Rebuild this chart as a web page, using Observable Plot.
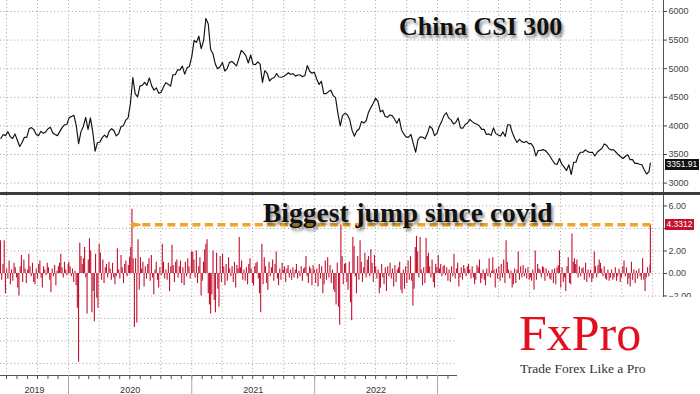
<!DOCTYPE html>
<html><head><meta charset="utf-8">
<script src="https://cdn.jsdelivr.net/npm/d3@7"></script>
<script src="https://cdn.jsdelivr.net/npm/@observablehq/plot@0.6"></script>
<style>
body{margin:0;background:#fff}
#wrap{position:relative;width:700px;height:394px;overflow:hidden;background:#fff;font-family:"Liberation Sans",Arial,sans-serif}
#top svg,#bot svg{display:block}
.sep{height:3px;background:#3c3c3c}
.ann{position:absolute;font-family:"Liberation Serif","Times New Roman",serif;font-weight:bold;color:#111;line-height:1;white-space:nowrap;text-shadow:2px 3px 3px rgba(0,0,0,0.45)}
.vbox{position:absolute;color:#fff;font-size:8.5px;line-height:11px;height:11px;padding:0 1.5px;white-space:nowrap}
#logo{position:absolute;left:457px;top:297px;width:243px;height:97px;background:#fff}
</style></head><body>
<div id="wrap">
  <div id="top"></div><div class="sep"></div><div id="bot"></div>
  <div class="ann" style="left:399px;top:14px;font-size:26px">China CSI 300</div>
  <div class="ann" style="left:263px;top:199px;font-size:27.5px">Biggest jump since covid</div>
  <div id="logo">
    <div style="position:absolute;left:62px;top:16px;font:50px/0.8 'Liberation Serif','Times New Roman',serif;color:#e2101f">FxPro</div>
    <div style="position:absolute;left:63px;top:65px;font:13.5px/1 'Liberation Serif','Times New Roman',serif;color:#333">Trade Forex Like a Pro</div>
  </div>
</div>
<script>
// ---- data: CSI 300 weekly closes (Fridays), by year, starting at the given Friday
const priceStarts = ["2019-06-14","2020-01-03","2021-01-01","2022-01-07","2023-01-06","2024-01-05"];
const price2019 = [3780,3850,3830,3900,3810,3780,3860,3750,3640,3710,3800,3800,3950,3970,3935,3850,3830,3905,3870,3895,3950,3975,3880,3850,3830,3900,3970,4020,4025];
const price2020 = [4145,4165,4185,4005,3690,3900,3990,4150,3940,4140,3895,3560,3710,3715,3795,3840,3795,3910,3950,3915,3825,3865,3990,4005,4100,4140,4400,4845,4565,4505,4695,4710,4760,4710,4840,4700,4625,4665,4570,4590,4680,4755,4730,4695,4895,4895,4980,4980,5045,4905,5015,5040];
const price2021 = [5210,5495,5460,5570,5350,5485,5880,5780,5335,5260,5080,5000,5035,5110,4960,5000,5110,5125,5090,5050,5180,5320,5280,5225,5100,5240,5080,5070,5120,5080,4760,4965,4920,4785,4830,4845,4915,4855,4850,4865,4895,4930,4900,4915,4870,4890,4890,4860,4880,5055,4955,4920,4940];
const price2022 = [4820,4725,4780,4565,4565,4600,4625,4530,4495,4220,4000,4185,4220,4195,4110,3925,3820,3910,3945,4075,4050,4090,4240,4320,4395,4485,4430,4245,4275,4170,4150,4190,4180,4120,4045,4130,3930,3855,3805,3805,3850,3690,3540,3765,3810,3800,3775,3870,3995,3955,3830,3870];
const price2023 = [3990,4075,4180,4230,4140,4105,4035,4060,4140,3965,3960,4025,4050,4115,4075,4045,4030,4000,3940,3940,3850,3860,3835,3965,3865,3840,3825,3895,3815,4020,4020,3885,3785,3710,3765,3725,3710,3730,3690,3690,3630,3475,3570,3570,3585,3570,3525,3470,3400,3340,3325,3430];
const price2024 = [3330,3280,3220,3320,3150,3365,3365,3490,3540,3540,3580,3550,3535,3540,3475,3540,3575,3605,3685,3660,3600,3580,3580,3540,3495,3460,3430,3470,3495,3410,3410,3345,3345,3330,3320,3230,3160,3200];
const lastClose = {date: "2024-09-24", value: 3351.91};

// ---- data: CSI 300 daily % change (sampled), by year, spread over each year's trading span
const retSpans = [["2019-06-13","2019-12-31"],["2020-01-02","2020-12-31"],["2021-01-04","2021-12-31"],["2022-01-04","2022-12-30"],["2023-01-03","2023-12-29"],["2024-01-02","2024-09-23"]];
const ret2019 = [2.9,-0.6,0.8,2.9,-1.8,0.4,-0.5,1.1,-1.0,0.3,-0.7,0.9,0.5,-0.4,-1.3,-2.0,0.6,1.6,-0.8,1.2,0.4,-0.9,0.3,1.7,0.6,-0.3,0.9,-0.8,-1.0,0.4,-0.5,0.8,1.1,-0.4,-1.3,0.6,0.3,-0.2,0.9,0.5,-0.6,-1.7,0.4,-0.3,0.7,-1.1,0.2,0.6,0.9,1.7,0.5,-0.4,1.0,0.3,-0.2,0.8];
const ret2020 = [1.0,0.6,-0.3,0.4,-0.8,0.2,-1.1,-3.1,-7.9,2.7,1.5,0.8,1.3,2.3,-0.4,-3.6,1.2,3.1,2.0,-3.5,-1.6,-4.3,1.7,-2.2,-3.1,2.6,1.8,-0.6,1.2,-0.9,0.5,0.8,-0.4,1.0,0.4,-0.6,0.9,-0.4,-1.0,-0.3,2.2,0.3,-0.5,1.6,0.5,-0.9,0.8,1.1,-0.3,0.7,1.4,2.3,5.7,1.3,-4.8,1.3,-4.4,3.0,-1.5,1.4,0.4,1.0,-1.2,0.6,-0.5,0.8,1.3,-0.7,1.6,-0.4,-1.9,0.3,1.0,-0.6,-1.3,0.5,-0.2,2.6,1.0,-0.5,0.3,-0.6,0.9,-1.6,0.6,2.5,0.7,-0.8,1.0,1.2,-0.4,0.6,1.1,-0.9,0.5,-1.1,1.0,-0.3,1.3,0.6,-0.5,1.9];
const ret2021 = [1.9,1.2,-0.4,2.0,-0.9,0.6,1.4,-2.0,-0.7,1.0,2.1,2.6,3.0,-1.8,-2.8,-3.6,-1.9,2.0,-2.4,-3.5,1.8,-1.4,-3.0,1.5,-0.8,1.7,0.6,-1.1,0.8,-0.7,1.4,0.4,-0.3,0.6,-0.8,1.0,-1.3,0.7,0.4,3.2,0.5,1.1,-0.6,0.3,-0.7,0.5,-1.0,0.8,1.3,0.4,-0.9,-1.1,0.6,0.9,1.0,-0.5,-1.8,-3.5,2.6,-1.0,1.4,0.6,-0.9,-1.5,1.0,-0.3,0.5,1.2,-0.7,0.8,1.9,-0.5,-1.1,0.4,-0.6,0.9,0.3,0.6,-0.8,0.4,0.7,-0.4,0.3,-0.6,0.5,-0.4,0.3,0.8,-0.5,0.2,-0.3,0.6,-0.7,0.4,0.5,1.5,-0.3,-0.9,0.6,0.4,-1.1,0.7,0.3];
const ret2022 = [-0.9,0.4,-1.2,0.8,-0.5,0.6,-1.8,-1.0,1.1,-0.6,1.4,-0.4,0.7,-0.9,0.3,-1.5,-1.7,-2.8,0.9,-3.0,-4.6,4.3,1.5,-1.0,0.8,0.9,-0.8,-1.5,1.0,-2.6,-4.2,3.2,2.4,-0.3,-1.8,1.5,-0.6,2.9,1.0,-0.8,0.5,1.8,-0.4,1.2,1.5,-0.3,2.1,0.9,-0.8,1.6,0.6,-0.5,0.3,-1.8,-1.3,0.8,-0.4,-1.0,0.5,-1.6,0.6,-0.3,0.9,-0.5,0.4,-1.2,0.7,-0.8,0.3,0.5,1.0,-1.5,-1.8,0.3,-1.4,0.6,-0.9,1.1,-0.6,1.5,-0.7,-2.9,-1.4,2.3,3.3,1.9,-0.4,3.2,0.3,-1.1,0.5,-0.9,3.1,1.5,1.8,0.6,-0.4,1.2,-0.8,-1.3,0.8,0.5];
const ret2023 = [1.6,0.4,0.8,-0.3,0.6,0.7,-0.2,0.5,-0.7,0.3,-0.8,0.6,-0.3,1.7,-0.5,0.4,0.9,-1.2,-0.4,0.5,-0.6,0.7,0.4,-0.3,0.6,0.8,0.3,-0.5,0.6,-0.4,-1.0,-0.6,0.7,0.5,1.2,-0.9,-0.5,0.3,-0.6,-1.1,0.4,-0.3,1.3,-0.4,0.2,1.4,0.3,-1.3,0.4,-0.5,0.6,-0.7,0.8,-0.4,1.2,-0.9,2.9,1.0,0.3,-0.5,0.2,-1.3,-1.0,0.4,-0.9,0.3,1.9,-0.6,0.6,-0.4,0.7,-0.3,0.4,-0.5,0.5,-0.6,-0.4,-0.7,0.3,-1.5,2.0,-0.6,0.8,0.4,0.3,-0.4,0.6,0.5,-0.7,0.4,-0.3,0.2,-0.5,-0.6,0.3,-0.9,0.4,-1.0,0.5,0.7,2.0];
const ret2024 = [-1.3,0.5,-0.8,-0.4,-1.6,0.6,1.4,-0.9,-1.0,3.5,1.0,1.3,0.8,1.2,-0.4,0.6,-0.3,0.4,0.5,-0.6,0.9,-0.8,0.3,-0.4,0.3,-0.8,-0.5,1.9,0.6,-0.4,0.7,1.2,0.9,0.4,-0.3,0.6,-0.5,-0.6,0.3,-0.7,-0.4,0.3,-0.6,-0.4,0.5,-0.7,-0.3,0.4,-0.8,-0.4,0.6,1.1,-0.3,0.5,-1.0,-0.5,-1.2,1.0,-0.6,0.3,-0.9,0.2,-0.5,0.4,-0.3,-0.6,1.3,-0.6,-1.6,-0.4,0.5,-0.3,0.7];
const lastReturn = {date: "2024-09-24", value: 4.3312};
const covidJump = {date: "2020-07-06", value: 5.67};

// ---- axes
const priceTicks = [3000,3500,4000,4500,5000,5500,6000];
const retTicks = [-8,-6,-4,-2,0,2,4,6];

// ---- build tables
const parse = d3.utcParse("%Y-%m-%d");
const priceBlocks = [price2019,price2020,price2021,price2022,price2023,price2024];
const priceData = [];
priceBlocks.forEach((vals, b) => {
  const s = parse(priceStarts[b]);
  vals.forEach((v, i) => priceData.push({date: d3.utcDay.offset(s, 7 * i), value: v}));
});
priceData.push({date: parse(lastClose.date), value: lastClose.value});

const retBlocks = [ret2019,ret2020,ret2021,ret2022,ret2023,ret2024];
const retData = [];
retBlocks.forEach((vals, b) => {
  const t = d3.scaleLinear().domain([0, vals.length - 1]).range([+parse(retSpans[b][0]), +parse(retSpans[b][1])]);
  vals.forEach((v, i) => retData.push({date: new Date(t(i)), value: v}));
});
retData.push({date: parse(lastReturn.date), value: lastReturn.value});

// ---- scale settings
const xDomain = [parse("2019-06-13"), parse("2024-11-02")];
const priceDomain = [2836, 6192];
const retDomain = [-9.07, 6.93];
const quarters = d3.utcMonth.every(3).range(xDomain[0], xDomain[1]);
const months = d3.utcMonth.range(xDomain[0], xDomain[1]);
const yearStarts = d3.utcYear.range(xDomain[0], xDomain[1]);
const yearMids = d3.utcYear.range(d3.utcYear.floor(xDomain[0]), xDomain[1]).map(y => {
  const a = Math.max(+y, +xDomain[0]), e = Math.min(+d3.utcYear.offset(y, 1), +xDomain[1]);
  return new Date((a + e) / 2);
});

const gridStyle = {stroke: "#a0a0a0", strokeOpacity: 1, strokeDasharray: "1,2.6"};
const font = {fontFamily: "'Liberation Sans', Arial, sans-serif", fontSize: "9px", background: "transparent", overflow: "visible"};
const f2 = d3.format(".2f");

const topPlot = Plot.plot({
  width: 700, height: 192, marginLeft: 0, marginRight: 37, marginTop: 0, marginBottom: 0,
  x: {type: "utc", domain: xDomain, axis: null},
  y: {domain: priceDomain},
  style: font,
  marks: [
    Plot.gridX(quarters, gridStyle),
    Plot.gridY(priceTicks, gridStyle),
    Plot.line(priceData, {x: "date", y: "value", stroke: "#111", strokeWidth: 1.15}),
    Plot.ruleX([xDomain[1]], {stroke: "#555"}),
    Plot.axisY(priceTicks, {anchor: "right", label: null, tickSize: 3, tickPadding: 2, fill: "#444", stroke: "#444", tickFormat: d3.format("d")})
  ]
});
document.getElementById("top").appendChild(topPlot);

const arrowData = [{x1: parse(lastReturn.date), x2: parse(covidJump.date), y: lastReturn.value}];
const headData = [{x1: d3.utcDay.offset(parse(covidJump.date), 24), x2: parse(covidJump.date), y: lastReturn.value}];

const botPlot = Plot.plot({
  width: 700, height: 199, marginLeft: 0, marginRight: 37, marginTop: 0, marginBottom: 19,
  x: {type: "utc", domain: xDomain},
  y: {domain: retDomain},
  style: font,
  marks: [
    Plot.gridX(quarters, gridStyle),
    Plot.gridY(retTicks, gridStyle),
    Plot.ruleX(retData, {x: "date", y1: 0, y2: "value", stroke: "#c3112e", strokeWidth: 1.1}),
    Plot.link(arrowData, {x1: "x1", x2: "x2", y1: "y", y2: "y", stroke: "#f0a526", strokeWidth: 3.5, strokeDasharray: "8,4.5"}),
    Plot.arrow(headData, {x1: "x1", x2: "x2", y1: "y", y2: "y", stroke: "#f0a526", strokeWidth: 2.5, headLength: 9}),
    Plot.ruleX([xDomain[1]], {stroke: "#555"}),
    Plot.ruleY([retDomain[0]], {stroke: "#555"}),
    Plot.axisX(months, {label: null, tickSize: 4, tickFormat: () => "", stroke: "#555"}),
    Plot.axisX(yearStarts, {label: null, tickSize: 19, tickFormat: () => "", stroke: "#aaa"}),
    Plot.axisX(yearMids, {label: null, tickSize: 0, tickPadding: 11.5, tickFormat: d3.utcFormat("%Y"), fill: "#333"}),
    Plot.axisY(retTicks, {anchor: "right", label: null, tickSize: 3, tickPadding: 2, fill: "#444", stroke: "#444",
      tickFormat: d => Math.abs(d - lastReturn.value) < 1 ? "" : f2(d)})
  ]
});
document.getElementById("bot").appendChild(botPlot);

// ---- value tags at right axis, positioned through the plots' scales
const wrap = document.getElementById("wrap");
function tag(text, bg, x, y, dy) {
  const d = document.createElement("div");
  d.className = "vbox"; d.textContent = text; d.style.background = bg;
  d.style.left = (x + 2) + "px"; d.style.top = (y - 5.5 + dy) + "px";
  wrap.appendChild(d);
}
tag(f2(lastClose.value), "#111", topPlot.scale("x").apply(xDomain[1]), topPlot.scale("y").apply(lastClose.value), 2);
tag(String(lastReturn.value), "#c3112e", botPlot.scale("x").apply(xDomain[1]), 195 + botPlot.scale("y").apply(lastReturn.value), 0);
wrap.appendChild(document.getElementById("logo"));
</script>
</body></html>
